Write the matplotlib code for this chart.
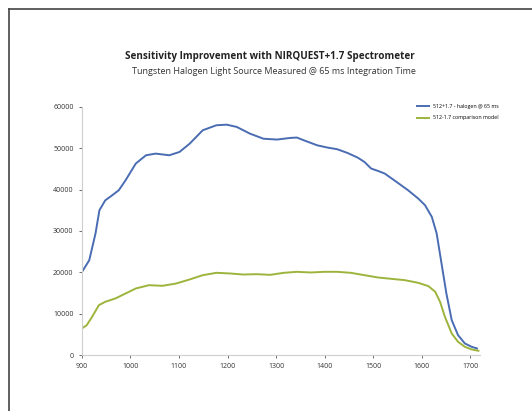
import matplotlib.pyplot as plt
from matplotlib.lines import Line2D

plt.rcParams['font.family'] = ['Open Sans', 'DejaVu Sans']

title = "Sensitivity Improvement with NIRQUEST+1.7 Spectrometer"
subtitle = "Tungsten Halogen Light Source Measured @ 65 ms Integration Time"
label_a = "512+1.7 - halogen @ 65 ms"
label_b = "512-1.7 comparison model"

wl_a = [900, 915, 928, 936, 948, 962, 976, 990, 1011, 1032, 1052, 1080, 1101,
        1122, 1149, 1177, 1198, 1219, 1246, 1274, 1302, 1330, 1343, 1357, 1385,
        1406, 1426, 1447, 1468, 1482, 1496, 1510, 1524, 1551, 1572, 1593, 1607,
        1621, 1631, 1641, 1651, 1662, 1675, 1689, 1703, 1714]
counts_a = [20100, 22900, 29400, 35000, 37400, 38600, 39850, 42270, 46300, 48300,
            48700, 48300, 49100, 51100, 54350, 55550, 55700, 55150, 53540, 52300,
            52100, 52500, 52580, 51930, 50700, 50160, 49760, 48870, 47750, 46700,
            45090, 44520, 43880, 41630, 39850, 37840, 36230, 33410, 29390, 22140,
            14900, 8450, 4830, 2820, 2010, 1610]

wl_b = [900, 910, 921, 935, 948, 969, 990, 1011, 1038, 1066, 1094, 1122, 1149,
        1177, 1205, 1232, 1260, 1288, 1316, 1343, 1371, 1399, 1426, 1454, 1482,
        1510, 1537, 1565, 1593, 1614, 1628, 1638, 1648, 1662, 1675, 1689, 1703, 1717]
counts_b = [6440, 7250, 9260, 12080, 12880, 13690, 14900, 16100, 16900, 16750,
            17300, 18280, 19320, 19890, 19730, 19480, 19560, 19400, 19890, 20130,
            19970, 20130, 20130, 19890, 19320, 18760, 18440, 18120, 17470, 16670,
            15300, 12880, 9260, 5230, 3220, 2010, 1370, 1050]

xticks = [900, 1000, 1100, 1200, 1300, 1400, 1500, 1600, 1700]
yticks = [0, 10000, 20000, 30000, 40000, 50000, 60000]

fig = plt.figure(figsize=(5.32, 4.11), dpi=100)
ax = fig.add_axes([0.154, 0.136, 0.748, 0.604])

ax.plot(wl_a, counts_a, color='#4a6cb3', lw=1.4, solid_joinstyle='round', label=label_a)
ax.plot(wl_b, counts_b, color='#9db43c', lw=1.4, solid_joinstyle='round', label=label_b)

ax.set_xlim(900, 1720)
ax.set_ylim(0, 60000)
ax.set_xticks(xticks)
ax.set_yticks(yticks)
ax.tick_params(labelsize=5, colors='#333333', length=2, width=0.5, pad=4)
for s in ['top', 'right']:
    ax.spines[s].set_visible(False)
for s in ['left', 'bottom']:
    ax.spines[s].set_color('#cfcfcf')
    ax.spines[s].set_linewidth(0.8)

ax.legend(loc='upper right', bbox_to_anchor=(1.06, 1.03), fontsize=3.8,
          frameon=False, handlelength=2.2, labelspacing=1.2)

fig.text(0.508, 0.856, title, ha='center', fontsize=7.1, fontweight='bold', color='#222222')
fig.text(0.514, 0.820, subtitle, ha='center', fontsize=6.5, color='#333333')

# outer frame (top and left edges visible in the crop)
fig.add_artist(Line2D([0.016, 0.016], [0, 0.979], transform=fig.transFigure,
                      color='#444444', lw=1.2))
fig.add_artist(Line2D([0.016, 1.0], [0.979, 0.979], transform=fig.transFigure,
                      color='#444444', lw=1.2))

fig.savefig('out.png', dpi=100)
